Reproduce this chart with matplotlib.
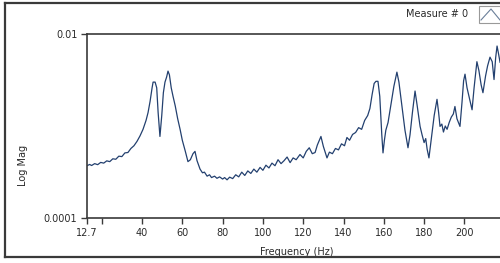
import matplotlib
matplotlib.use('Agg')
import matplotlib.pyplot as plt
from matplotlib.patches import Rectangle
from matplotlib.lines import Line2D

# Spectrum (frequency in Hz, magnitude)
freq_hz = [
    12.7, 14, 15, 16.5, 18, 19.5, 21, 22.5, 24, 25.5, 27, 28.5, 30, 31.5, 33,
    34.5, 36, 37.5, 39, 40.5, 42, 43, 44, 45, 45.5, 46.5, 47.3, 48.0, 48.9,
    49.8, 50.6, 51.4, 52.2, 52.9, 53.6, 54.5, 55.4, 56.5, 57.7, 58.9, 60,
    61.5, 62.8, 64, 65.3, 66.3, 67.3, 68.8, 70, 71, 72.3, 73.5, 74.5, 76,
    77.2, 78.5, 80, 81, 82.2, 83.5, 85, 86.5, 88, 89.5, 91, 92.5, 94, 95.5,
    97, 98.6, 100, 101.5, 103, 104.5, 106, 107.5, 109, 110.5, 112, 113.5,
    115, 116.5, 118.4, 120, 121.5, 123, 124.5, 125.9, 127, 128.8, 130, 131.8,
    133, 134.5, 136, 137.5, 139, 140.5, 141.7, 143, 144.5, 146, 147.5, 149,
    150.5, 152, 153.1, 154.2, 155.2, 156.1, 157.1, 158, 159, 159.6, 160.3,
    161, 162.1, 163.5, 165, 166.5, 167.5, 169, 170.5, 172, 173, 174.2, 175.5,
    176.5, 178, 179, 180, 180.8, 181.5, 182.4, 183.5, 185, 186.4, 187.2,
    187.9, 188.8, 189.6, 190.5, 191.4, 192.5, 193.5, 194.5, 195.3, 196.3,
    197.8, 198.8, 199.6, 200.3, 201.3, 202.5, 203.8, 204.8, 206.2, 207.2,
    208.3, 209.2, 210.5, 211.5, 212.7, 213.8, 214.7, 215.5, 216.2, 217,
    217.7, 218.5,
]
log_mag = [
    3.70e-4, 3.82e-4, 3.72e-4, 3.90e-4, 3.80e-4, 4.02e-4, 3.95e-4, 4.18e-4,
    4.10e-4, 4.40e-4, 4.35e-4, 4.70e-4, 4.65e-4, 5.10e-4, 5.15e-4, 5.70e-4,
    6.10e-4, 6.80e-4, 7.80e-4, 9.20e-4, 1.15e-3, 1.40e-3, 1.85e-3, 2.60e-3,
    3.00e-3, 3.00e-3, 2.60e-3, 1.40e-3, 7.70e-4, 1.30e-3, 2.30e-3, 3.00e-3,
    3.40e-3, 3.95e-3, 3.60e-3, 2.60e-3, 2.10e-3, 1.65e-3, 1.20e-3, 9.20e-4,
    7.00e-4, 5.30e-4, 4.10e-4, 4.30e-4, 5.00e-4, 5.30e-4, 4.20e-4, 3.40e-4,
    3.10e-4, 3.15e-4, 2.85e-4, 2.95e-4, 2.75e-4, 2.85e-4, 2.70e-4, 2.80e-4,
    2.65e-4, 2.75e-4, 2.60e-4, 2.78e-4, 2.68e-4, 2.95e-4, 2.80e-4, 3.15e-4,
    2.90e-4, 3.25e-4, 3.05e-4, 3.40e-4, 3.15e-4, 3.55e-4, 3.30e-4, 3.75e-4,
    3.50e-4, 3.95e-4, 3.70e-4, 4.30e-4, 3.90e-4, 4.20e-4, 4.60e-4, 4.00e-4,
    4.50e-4, 4.30e-4, 4.90e-4, 4.50e-4, 5.30e-4, 5.80e-4, 5.00e-4, 5.15e-4,
    6.20e-4, 7.70e-4, 6.00e-4, 4.50e-4, 5.20e-4, 5.00e-4, 5.70e-4, 5.50e-4,
    6.40e-4, 6.10e-4, 7.50e-4, 7.00e-4, 8.10e-4, 8.50e-4, 9.60e-4, 9.20e-4,
    1.15e-3, 1.30e-3, 1.55e-3, 2.20e-3, 2.90e-3, 3.06e-3, 3.06e-3, 2.10e-3,
    8.00e-4, 5.10e-4, 7.00e-4, 9.00e-4, 1.09e-3, 1.70e-3, 2.70e-3, 3.85e-3,
    3.00e-3, 1.65e-3, 9.00e-4, 5.80e-4, 8.00e-4, 1.40e-3, 2.40e-3, 1.70e-3,
    9.90e-4, 8.00e-4, 6.60e-4, 7.30e-4, 5.60e-4, 4.50e-4, 7.00e-4, 1.30e-3,
    1.95e-3, 1.40e-3, 9.90e-4, 1.05e-3, 8.60e-4, 1.00e-3, 9.20e-4, 1.10e-3,
    1.25e-3, 1.35e-3, 1.63e-3, 1.20e-3, 9.90e-4, 1.80e-3, 3.10e-3, 3.66e-3,
    2.60e-3, 2.00e-3, 1.50e-3, 2.60e-3, 5.00e-3, 4.00e-3, 2.80e-3, 2.30e-3,
    3.50e-3, 4.50e-3, 5.60e-3, 5.00e-3, 3.20e-3, 5.50e-3, 7.40e-3, 6.00e-3,
    4.90e-3, 6.50e-3,
]

x_ticks = [12.7, 20, 40, 60, 80, 100, 120, 140, 160, 180, 200]
x_tick_labels = ['12.7', '', '40', '60', '80', '100', '120', '140', '160',
                 '180', '200']
y_ticks = [0.0001, 0.01]
y_tick_labels = ['0.0001', '0.01']

plt.rcParams['font.family'] = ['DejaVu Sans']
frame_col = '#3a3a3a'
text_col = '#2a2a2a'

fig = plt.figure(figsize=(5, 2.63), dpi=100)
fig.patch.set_facecolor('white')

# plot area runs past the right edge of the picture, like the cropped original
ax = fig.add_axes([87 / 500, 45 / 263, 428 / 500, 184 / 263])
ax.plot(freq_hz, log_mag, color='#23406f', linewidth=0.9)

ax.set_yscale('log')
ax.set_ylim(0.0001, 0.01)
ax.set_xlim(12.7, 12.7 + 428 / 2.015)

ax.set_xticks(x_ticks)
ax.set_xticklabels(x_tick_labels)
ax.set_yticks(y_ticks)
ax.set_yticklabels(y_tick_labels)
ax.yaxis.set_minor_locator(matplotlib.ticker.NullLocator())
ax.tick_params(axis='both', labelsize=7, colors=frame_col, labelcolor=text_col,
               length=4, width=1, pad=3)

for side in ['left', 'bottom', 'top', 'right']:
    ax.spines[side].set_color(frame_col)
    ax.spines[side].set_linewidth(1.2)

ax.set_xlabel('Frequency (Hz)', fontsize=7, color=text_col, labelpad=1)
ax.xaxis.set_label_coords((297 - 87) / 428, -(247 - 218) / 184)
ax.set_ylabel('Log Mag', fontsize=7, color=text_col)
ax.yaxis.set_label_coords(-(87 - 28) / 428, (218 - 165) / 184)

# outer panel frame
fig.add_artist(Line2D([5 / 500, 5 / 500], [6 / 263, 260 / 263],
                      color=frame_col, linewidth=1.6))
fig.add_artist(Line2D([5 / 500, 1.0], [260 / 263, 260 / 263],
                      color=frame_col, linewidth=1.6))
fig.add_artist(Line2D([5 / 500, 1.0], [6 / 263, 6 / 263],
                      color=frame_col, linewidth=1.6))

# legend entry in the top strip
fig.text(468 / 500, 249 / 263, 'Measure # 0', fontsize=7, color=text_col,
         ha='right', va='center')
fig.add_artist(Rectangle((479 / 500, 240 / 263), 30 / 500, 17 / 263,
                         facecolor='white', edgecolor='#999999', linewidth=0.8))
fig.add_artist(Line2D([481 / 500, 491 / 500, 500 / 500],
                      [243 / 263, 254 / 263, 243 / 263],
                      color='#6a7f99', linewidth=0.8))

fig.savefig('out.png', dpi=100, facecolor='white')
plt.close(fig)
